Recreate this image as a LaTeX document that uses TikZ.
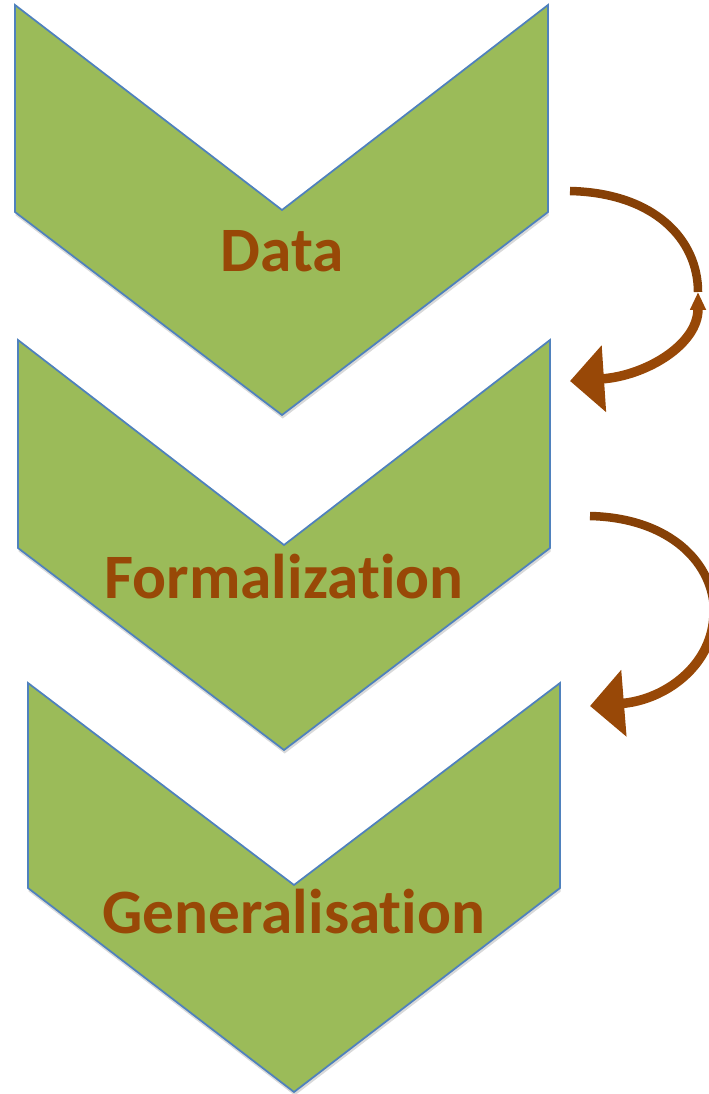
\documentclass[tikz,border=0pt]{standalone}
\usepackage{fontspec}
\setmainfont{Carlito}[Ligatures=NoCommon]
\usetikzlibrary{arrows.meta,shadows}
\definecolor{leafgreen}{HTML}{9BBB59}
\definecolor{edgeblue}{HTML}{4F81BD}
\definecolor{rust}{HTML}{984807}
\definecolor{darkrust}{HTML}{864006}
\begin{document}
\begin{tikzpicture}[x=0.02cm,y=-0.02cm,
	chev/.style={fill=leafgreen,draw=edgeblue,line width=1pt,
	drop shadow={opacity=0.3,shadow xshift=0.4pt,shadow yshift=-2pt}},
	lbl/.style={anchor=base,text=rust,font=\fontsize{36}{40}\selectfont\bfseries},
	loop/.style={draw=rust,line width=0.19cm}]
	\useasboundingbox (0,0) rectangle (709,1094);
	\clip (0,0) rectangle (709,1094);
	% chevrons
	\path[chev] (15,5) -- (282,210) -- (548,5) -- (548,212) -- (282,415) -- (15,212) -- cycle;
	\path[chev] (18,340) -- (284,545) -- (550,340) -- (550,548) -- (284,750) -- (18,548) -- cycle;
	\path[chev] (28,683) -- (294,885) -- (560,683) -- (560,888) -- (294,1092) -- (28,888) -- cycle;
	\node(data) [lbl] at (282,272) {Data};
	\node(formal) [lbl] at (284,598) {Formalization};
	\node(general) [lbl] at (294,933) {Generalisation};
	% curved arrows
	\coordinate (s1) at (570,191);
	\coordinate (m1) at (698,292);
	\coordinate (e1) at (570,381);
	\coordinate (s2) at (590,516);
	\coordinate (m2) at (714,612);
	\coordinate (e2) at (590,706);
	\draw [loop,draw=darkrust,line width=0.17cm] (s1) .. controls (655,193) and (698,240) .. (m1);
	\draw [loop,{Triangle[length=0.36cm,width=0.3cm]}-{Triangle[length=0.68cm,width=1.3cm]}]
	(m1) .. controls (698,345) and (645,376) .. (e1);
	\draw [loop,draw=darkrust,line width=0.17cm] (s2) .. controls (672,518) and (714,565) .. (m2);
	\draw [loop,-{Triangle[length=0.68cm,width=1.3cm]}]
	(m2) .. controls (714,665) and (665,700) .. (e2);
\end{tikzpicture}
\end{document}
